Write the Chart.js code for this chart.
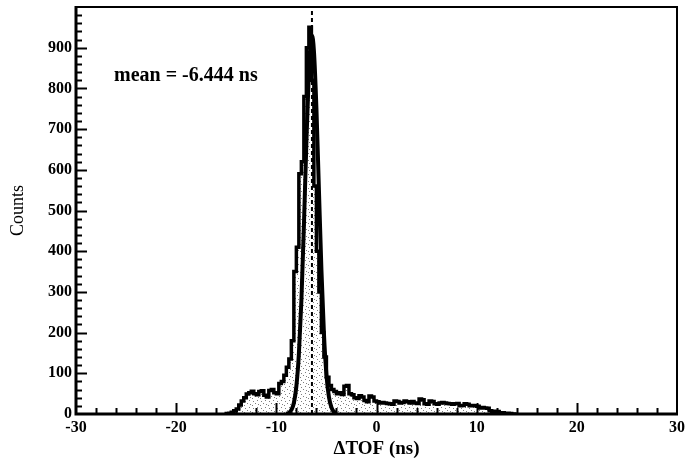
<!DOCTYPE html>
<html>
<head>
<meta charset="utf-8">
<script src="https://cdn.jsdelivr.net/npm/chart.js@4/dist/chart.umd.min.js"></script>
<style>
  html, body { margin: 0; padding: 0; background: #fff; }
  #wrap { width: 685px; height: 460px; }
</style>
</head>
<body>
<div id="wrap"><canvas id="tof" width="685" height="460"></canvas></div>
<script>
// ΔTOF histogram, 0.25 ns bins from -15 to 14 ns
const binLo = -15;
const binWidth = 0.25;
const counts = [
  0, 1, 2, 4, 8, 12, 22, 32, 40, 49, 52, 56, 50, 47, 55, 57,
  46, 42, 58, 60, 52, 50, 75, 80, 95, 115, 135, 180, 350, 410, 590, 620,
  780, 900, 950, 820, 560, 400, 300, 200, 140, 90, 70, 60, 55, 50, 52, 48,
  68, 70, 50, 47, 40, 38, 45, 42, 33, 30, 44, 42,
  32, 30, 27, 28, 27, 26, 25, 24, 32, 31, 27, 28, 32, 30, 27, 31,
  27, 26, 37, 35, 25, 24, 32, 31, 25, 24, 27, 28, 27, 26, 25, 24,
  25, 26, 20, 21, 25, 24, 20, 21, 20, 19, 15, 16, 15, 14, 8, 7,
  7, 6, 3, 3, 1, 2, 1, 0
];

// gaussian fit to the peak
const fitX = [-9, -8.75, -8.5, -8.25, -8, -7.75, -7.5, -7.25, -7, -6.75, -6.5, -6.444,
              -6.25, -6, -5.75, -5.5, -5.25, -5, -4.75, -4.5, -4.25, -4];
const fitY = [1, 3, 10, 27, 68, 147, 278, 461, 666, 841, 927, 930,
              893, 752, 552, 355, 199, 97, 42, 16, 5, 1];
const meanTOF = -6.444;

const xTicks = [-30, -20, -10, 0, 10, 20, 30];
const yTicks = [0, 100, 200, 300, 400, 500, 600, 700, 800, 900];

const serif = "'Liberation Serif', 'DejaVu Serif', serif";

const histPts = counts.map((c, i) => ({ x: binLo + i * binWidth, y: c }));
histPts.push({ x: binLo + counts.length * binWidth, y: 0 });

// sparse speckle fill under the histogram
function speckle() {
  const c = document.createElement('canvas');
  c.width = 8; c.height = 7;
  const g = c.getContext('2d');
  g.fillStyle = 'rgba(40,40,40,0.6)';
  [[1, 1], [5, 2], [2, 5], [7, 4], [4, 6]].forEach(p => g.fillRect(p[0], p[1], 1, 1));
  return g.createPattern(c, 'repeat');
}

const frame = {
  id: 'frame',
  afterDraw(chart) {
    const { ctx, chartArea: a, scales: { x, y } } = chart;
    ctx.save();
    ctx.strokeStyle = '#000';
    // inward ticks
    ctx.lineWidth = 2;
    for (let v = 20; v < 1000; v += 20) {
      const py = Math.round(y.getPixelForValue(v)) + 0.5;
      const len = v % 100 === 0 ? 11 : 6;
      ctx.beginPath(); ctx.moveTo(a.left, py); ctx.lineTo(a.left + len, py); ctx.stroke();
    }
    for (let v = -28; v < 30; v += 2) {
      const px = Math.round(x.getPixelForValue(v)) + 0.5;
      const len = v % 10 === 0 ? 11 : 6;
      ctx.beginPath(); ctx.moveTo(px, a.bottom); ctx.lineTo(px, a.bottom - len); ctx.stroke();
    }
    // box
    ctx.lineWidth = 2;
    ctx.beginPath();
    ctx.moveTo(a.left, a.top); ctx.lineTo(a.right, a.top); ctx.lineTo(a.right, a.bottom);
    ctx.stroke();
    ctx.lineWidth = 3;
    ctx.beginPath();
    ctx.moveTo(a.left, a.top - 1); ctx.lineTo(a.left, a.bottom); ctx.lineTo(a.right + 1, a.bottom);
    ctx.stroke();
    // fit mean label
    ctx.fillStyle = '#000';
    ctx.font = 'bold 20px ' + serif;
    ctx.textBaseline = 'middle';
    ctx.fillText('mean = ' + meanTOF.toFixed(3) + ' ns', x.getPixelForValue(-26.2), y.getPixelForValue(830));
    ctx.restore();
  }
};

new Chart(document.getElementById('tof'), {
  type: 'line',
  data: {
    datasets: [
      {
        data: [{ x: meanTOF, y: 0 }, { x: meanTOF, y: 1000 }],
        borderColor: '#000', borderWidth: 2, borderDash: [4, 3],
        pointRadius: 0, fill: false, order: 0
      },
      {
        data: fitX.map((v, i) => ({ x: v, y: fitY[i] })),
        borderColor: '#000', borderWidth: 4, cubicInterpolationMode: 'monotone',
        pointRadius: 0, fill: false, order: 1
      },
      {
        data: histPts,
        borderColor: '#000', borderWidth: 3.5, stepped: 'after',
        backgroundColor: speckle(), fill: 'origin',
        pointRadius: 0, order: 2
      }
    ]
  },
  options: {
    responsive: false,
    animation: false,
    layout: { padding: { top: 7, right: 8, left: 0, bottom: 0 } },
    plugins: { legend: { display: false }, tooltip: { enabled: false } },
    scales: {
      x: {
        type: 'linear', min: -30, max: 30,
        afterFit(s) { s.height = 46; s.paddingLeft = 0; s.paddingRight = 0; },
        afterBuildTicks(s) { s.ticks = xTicks.map(v => ({ value: v })); },
        grid: { display: false, drawTicks: false },
        border: { display: false },
        ticks: { padding: 4, color: '#000', font: { family: serif, size: 16, weight: 'bold' } },
        title: { display: true, text: 'ΔTOF (ns)', color: '#000', padding: { top: 0, bottom: 0 },
                 font: { family: serif, size: 19, weight: 'bold' } }
      },
      y: {
        min: 0, max: 1000,
        afterFit(s) { s.width = 76; s.paddingTop = 0; s.paddingBottom = 0; },
        afterBuildTicks(s) { s.ticks = yTicks.map(v => ({ value: v })); },
        grid: { display: false, drawTicks: false },
        border: { display: false },
        ticks: { padding: 4, color: '#000', font: { family: serif, size: 16, weight: 'bold' } },
        title: { display: true, text: 'Counts', color: '#000', padding: { top: 7, bottom: 0 },
                 font: { family: serif, size: 18 } }
      }
    }
  },
  plugins: [frame]
});
</script>
</body>
</html>
